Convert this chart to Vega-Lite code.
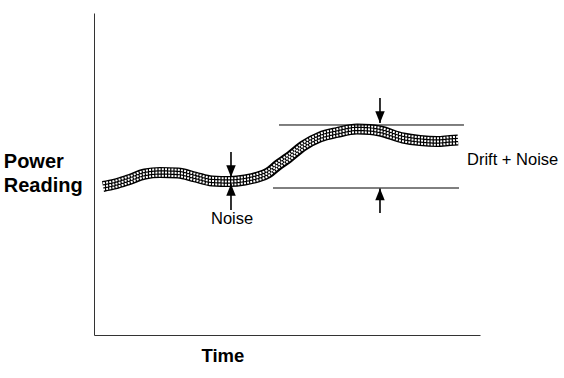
{
  "$schema": "https://vega.github.io/schema/vega-lite/v6.json",
  "width": 386,
  "height": 322,
  "autosize": {"type": "none"},
  "padding": {"left": 94, "top": 13, "right": 84, "bottom": 43},
  "background": "white",
  "config": {
    "view": {"stroke": null},
    "font": "Liberation Sans"
  },
  "datasets": {
    "curve": [
      {"t": 2.33, "p": 46.12},
      {"t": 5.44, "p": 46.89},
      {"t": 8.81, "p": 48.14},
      {"t": 13.21, "p": 50.0},
      {"t": 17.10, "p": 50.47},
      {"t": 21.76, "p": 50.31},
      {"t": 26.17, "p": 49.07},
      {"t": 30.57, "p": 47.83},
      {"t": 35.23, "p": 47.67},
      {"t": 39.12, "p": 48.14},
      {"t": 42.49, "p": 49.07},
      {"t": 45.08, "p": 50.31},
      {"t": 47.67, "p": 52.80},
      {"t": 50.26, "p": 54.97},
      {"t": 54.15, "p": 58.70},
      {"t": 58.55, "p": 61.49},
      {"t": 62.95, "p": 62.89},
      {"t": 68.13, "p": 63.98},
      {"t": 71.50, "p": 63.82},
      {"t": 74.09, "p": 63.35},
      {"t": 80.05, "p": 61.18},
      {"t": 84.46, "p": 60.40},
      {"t": 88.86, "p": 60.09},
      {"t": 92.23, "p": 60.40},
      {"t": 94.30, "p": 60.56}
    ],
    "hlines": [
      {"t": 47.93, "t2": 95.85, "p": 65.22},
      {"t": 46.37, "t2": 94.56, "p": 45.65}
    ],
    "arrows": [
      {"t": 35.49, "tail": 56.83, "tip": 49.07, "dir": "down"},
      {"t": 35.49, "tail": 38.82, "tip": 46.89, "dir": "up"},
      {"t": 74.09, "tail": 73.60, "tip": 65.84, "dir": "down"},
      {"t": 74.09, "tail": 37.89, "tip": 45.50, "dir": "up"}
    ],
    "labels": [
      {"t": 30.31, "p": 35.9, "label": "Noise"},
      {"t": 96.63, "p": 54.35, "label": "Drift + Noise"}
    ]
  },
  "encoding": {
    "x": {
      "field": "t", "type": "quantitative",
      "scale": {"domain": [0, 100], "nice": false, "zero": false},
      "axis": {
        "title": "Time", "labels": false, "ticks": false, "grid": false,
        "domainColor": "#333", "domainWidth": 1,
        "titleFont": "Liberation Sans", "titleFontSize": 18.5, "titleFontWeight": "bold",
        "titleColor": "black", "titleX": 128.4, "titleY": 26.7,
        "titleAlign": "center", "titleBaseline": "alphabetic"
      }
    },
    "y": {
      "field": "p", "type": "quantitative",
      "scale": {"domain": [0, 100], "nice": false, "zero": false},
      "axis": {
        "title": ["Power", "Reading"], "labels": false, "ticks": false, "grid": false,
        "domainColor": "#333", "domainWidth": 1,
        "titleFont": "Liberation Sans", "titleFontSize": 20, "titleFontWeight": "bold",
        "titleColor": "black", "titleAngle": 0, "titleAlign": "left",
        "titleBaseline": "alphabetic", "titleLineHeight": 24,
        "titleX": -90.7, "titleY": 154.7
      }
    }
  },
  "layer": [
    {
      "data": {"name": "curve"},
      "mark": {"type": "line", "color": "black", "strokeWidth": 11, "strokeCap": "butt", "interpolate": "monotone"},
      "encoding": {}
    },
    {
      "data": {"name": "curve"},
      "mark": {"type": "line", "color": "white", "strokeWidth": 2, "strokeCap": "butt", "strokeDash": [2, 1.2], "interpolate": "monotone", "yOffset": -3.2},
      "encoding": {}
    },
    {
      "data": {"name": "curve"},
      "mark": {"type": "line", "color": "white", "strokeWidth": 2, "strokeCap": "butt", "strokeDash": [2, 1.2], "interpolate": "monotone", "yOffset": 0},
      "encoding": {}
    },
    {
      "data": {"name": "curve"},
      "mark": {"type": "line", "color": "white", "strokeWidth": 2, "strokeCap": "butt", "strokeDash": [2, 1.2], "interpolate": "monotone", "yOffset": 3.2},
      "encoding": {}
    },
    {
      "data": {"name": "hlines"},
      "mark": {"type": "rule", "color": "black", "strokeWidth": 1},
      "encoding": {"x2": {"field": "t2"}}
    },
    {
      "data": {"name": "arrows"},
      "mark": {"type": "rule", "color": "black", "strokeWidth": 1.6},
      "encoding": {"y": {"field": "tail", "type": "quantitative"}, "y2": {"field": "tip"}}
    },
    {
      "data": {"name": "arrows"},
      "mark": {"type": "point", "filled": true, "color": "black", "opacity": 1, "size": 140, "strokeWidth": 0},
      "encoding": {
        "y": {"field": "tip", "type": "quantitative"},
        "shape": {
          "field": "dir", "type": "nominal", "legend": null,
          "scale": {"domain": ["down", "up"], "range": ["M-0.8,-2L0.8,-2L0,0Z", "M-0.8,2L0.8,2L0,0Z"]}
        }
      }
    },
    {
      "data": {"name": "labels"},
      "mark": {"type": "text", "align": "left", "baseline": "middle", "font": "Liberation Sans", "fontSize": 16.5, "color": "black"},
      "encoding": {"text": {"field": "label"}}
    }
  ]
}
